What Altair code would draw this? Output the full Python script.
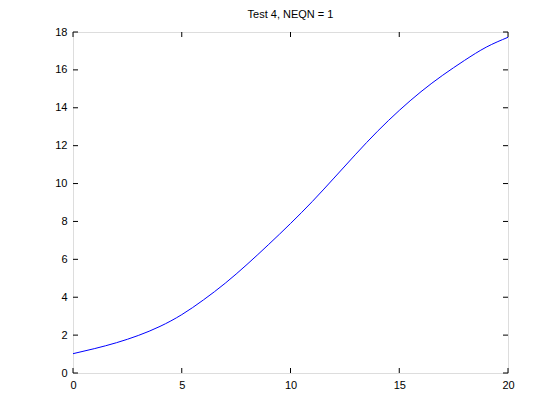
import altair as alt
import pandas as pd

t_vals = [0, 1, 2, 3, 4, 5, 6, 7, 8, 9, 10, 11, 12, 13, 14, 15, 16, 17, 18, 19, 20]
y_vals = [1.02, 1.29, 1.60, 1.98, 2.46, 3.08, 3.86, 4.74, 5.73, 6.79, 7.89,
          9.05, 10.29, 11.55, 12.76, 13.86, 14.85, 15.72, 16.50, 17.20, 17.72]
x_ticks = [0, 5, 10, 15, 20]
y_ticks = [0, 2, 4, 6, 8, 10, 12, 14, 16, 18]

W, H = 435, 341
TL = 5

df = pd.DataFrame({"t": t_vals, "y": y_vals})
xt = pd.DataFrame({"v": x_ticks})
yt = pd.DataFrame({"v": y_ticks})

xs = alt.Scale(domain=[0, 20], nice=False, zero=False)
ys = alt.Scale(domain=[0, 18], nice=False, zero=False)

font = "Liberation Sans"

xax = alt.Axis(values=x_ticks, title=None, grid=False, domain=False, ticks=False,
               labelPadding=6, labelFont=font, labelFontSize=11, labelColor="black",
               labelFlush=False, labelOverlap=False)
yax = alt.Axis(values=y_ticks, title=None, grid=False, domain=False, ticks=False,
               labelPadding=6, labelFont=font, labelFontSize=11, labelColor="black",
               labelFlush=False, labelOverlap=False)

line = alt.Chart(df).mark_line(color="#0000ff", strokeWidth=1, interpolate="natural").encode(
    x=alt.X("t:Q", scale=xs, axis=xax),
    y=alt.Y("y:Q", scale=ys, axis=yax),
)

xb = alt.Chart(xt).mark_rule(color="black", strokeWidth=1).encode(
    x=alt.X("v:Q", scale=xs, axis=xax), y=alt.value(H), y2=alt.value(H - TL))
xtop = alt.Chart(xt).mark_rule(color="black", strokeWidth=1).encode(
    x=alt.X("v:Q", scale=xs, axis=xax), y=alt.value(0), y2=alt.value(TL))
yl = alt.Chart(yt).mark_rule(color="black", strokeWidth=1).encode(
    y=alt.Y("v:Q", scale=ys, axis=yax), x=alt.value(0), x2=alt.value(TL))
yr = alt.Chart(yt).mark_rule(color="black", strokeWidth=1).encode(
    y=alt.Y("v:Q", scale=ys, axis=yax), x=alt.value(W), x2=alt.value(W - TL))

chart = alt.layer(line, xb, xtop, yl, yr).properties(
    width=W, height=H,
    title=alt.Title("Test 4, NEQN = 1", font=font, fontSize=11, fontWeight="normal",
                    color="black", offset=6),
    autosize=alt.AutoSizeParams(type="none"),
    padding={"left": 65, "top": 24, "right": 10, "bottom": 30},
).configure_view(stroke="black", strokeWidth=1).configure_axis(
    labelOverlap=False
).configure(background="white")

chart.save("out.html", embed_options={"renderer": "svg", "actions": False})
